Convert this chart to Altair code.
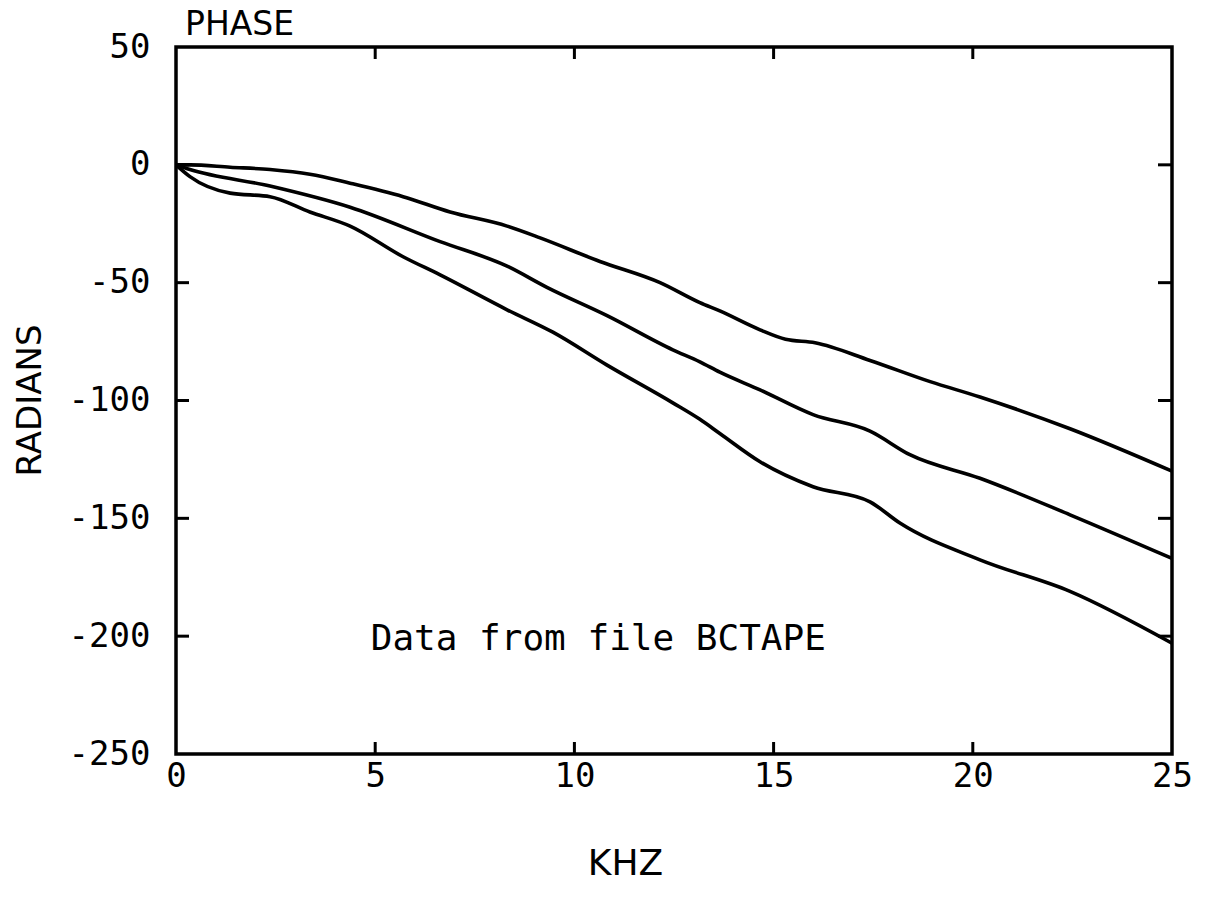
import altair as alt
import pandas as pd

# --- data ---
top_khz = [0, 0.35, 1.36, 2.36, 3.36, 4.37, 5.7, 6.88, 8.31, 9.14, 10.64, 12.15, 13.15, 13.65, 14.66, 15.3, 16.04, 17.42, 18.93, 20.18, 22.44, 25]
top_rad = [0, 0, -1, -2, -4, -7.8, -13.5, -20, -26, -31, -41, -50, -58.5, -62, -70, -74, -75.5, -83, -92, -98.5, -112, -130]

mid_khz = [0, 0.35, 2.36, 4.37, 6.63, 8.31, 9.31, 10.82, 12.47, 13.15, 13.65, 14.66, 15.99, 17.42, 18.42, 20.18, 22.44, 25]
mid_rad = [0, -2, -9, -18, -32.6, -43, -52, -64, -78.5, -83.6, -88, -95.5, -106, -113, -123, -133, -148.5, -167]

bot_khz = [0, 0.35, 1.36, 2.36, 3.36, 4.37, 5.7, 6.63, 8.31, 9.46, 10.82, 12.47, 13.15, 13.65, 14.66, 15.99, 17.42, 18.17, 20.18, 22.44, 25]
bot_rad = [0, -5, -12, -13.5, -20, -26, -39, -46.7, -61.5, -71, -85, -101, -108, -114, -126, -136.6, -143, -152, -167.6, -181, -203]

x_ticks = [0, 5, 10, 15, 20, 25]
y_ticks = [-250, -200, -150, -100, -50, 0, 50]
inner_x_ticks = [5, 10, 15, 20]
inner_y_ticks = [-200, -150, -100, -50, 0]

note_text = ["Data from file BCTAPE"]
note_khz = [10.6]
note_rad = [-201]

rows = []
for name, xs, ys in [("top", top_khz, top_rad), ("mid", mid_khz, mid_rad), ("bot", bot_khz, bot_rad)]:
    for i, (a, b) in enumerate(zip(xs, ys)):
        rows.append({"series": name, "khz": a, "rad": b, "order": i})
df = pd.DataFrame(rows)

W, H = 996, 707
MONO = "DejaVu Sans Mono"
SANS = "DejaVu Sans"

xscale = alt.Scale(domain=[0, 25], nice=False, zero=False)
yscale = alt.Scale(domain=[-250, 50], nice=False, zero=False)

xaxis = alt.Axis(values=x_ticks, ticks=False, domain=False, grid=False, labelFlush=False,
                 labelExpr="'' + datum.value",
                 labelFont=MONO, labelFontSize=34, labelColor="black", labelPadding=5,
                 title="KHZ", titleFont=SANS, titleFontSize=36, titleFontWeight="normal",
                 titleColor="black", titleX=449, titleY=92, titleAlign="center", titleBaseline="top")
yaxis = alt.Axis(values=y_ticks, ticks=False, domain=False, grid=False, labelFlush=False,
                 labelExpr="'' + datum.value",
                 labelFont=MONO, labelFontSize=34, labelColor="black", labelPadding=26,
                 title="RADIANS", titleFont=SANS, titleFontSize=34, titleFontWeight="normal",
                 titleColor="black", titleX=-146, titleY=353, titleAngle=-90, titleBaseline="middle",
                 titleAlign="center")

lines = alt.Chart(df).mark_line(strokeWidth=3.6, color="black", interpolate="monotone").encode(
    x=alt.X("khz:Q", scale=xscale, axis=xaxis),
    y=alt.Y("rad:Q", scale=yscale, axis=yaxis),
    detail="series:N",
    order="order:Q",
)

yt = pd.DataFrame({"v": inner_y_ticks})
xt = pd.DataFrame({"v": inner_x_ticks})

left_ticks = alt.Chart(yt).mark_rule(color="black", strokeWidth=3).encode(
    y=alt.Y("v:Q", scale=yscale), x=alt.value(0), x2=alt.value(13))
right_ticks = alt.Chart(yt).mark_rule(color="black", strokeWidth=3).encode(
    y=alt.Y("v:Q", scale=yscale), x=alt.value(W - 14), x2=alt.value(W))
top_ticks = alt.Chart(xt).mark_rule(color="black", strokeWidth=3).encode(
    x=alt.X("v:Q", scale=xscale), y=alt.value(0), y2=alt.value(12))
bottom_ticks = alt.Chart(xt).mark_rule(color="black", strokeWidth=3).encode(
    x=alt.X("v:Q", scale=xscale), y=alt.value(H - 12), y2=alt.value(H))

note = alt.Chart(pd.DataFrame({"t": note_text, "x": note_khz, "y": note_rad})).mark_text(
    font=MONO, fontSize=36, color="black", align="center", baseline="middle").encode(
    x=alt.X("x:Q", scale=xscale), y=alt.Y("y:Q", scale=yscale), text="t:N")

chart = alt.layer(lines, left_ticks, right_ticks, top_ticks, bottom_ticks, note).properties(
    width=W, height=H,
    padding={"left": 168, "top": 39, "right": 30, "bottom": 130},
    autosize=alt.AutoSizeParams(type="none"),
    title=alt.TitleParams("PHASE", anchor="start", frame="group", dx=9, offset=-12, font=SANS,
                          fontSize=33, fontWeight="normal", color="black"),
).configure(background="white").configure_view(stroke="black", strokeWidth=3.5)

chart.save("out.html", embed_options={"renderer": "svg", "actions": False})
